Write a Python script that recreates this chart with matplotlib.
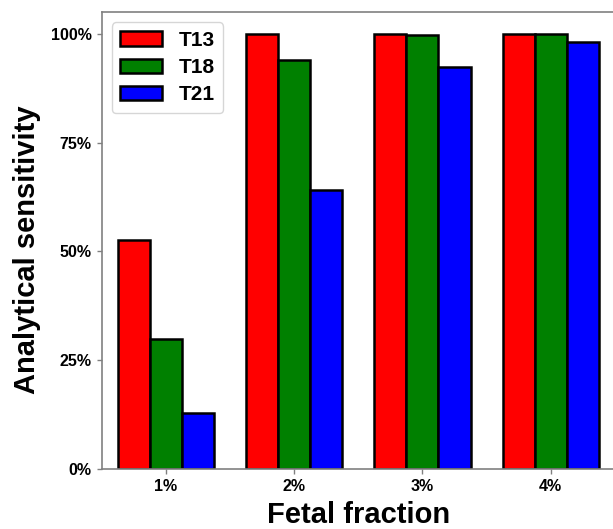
import numpy as np
import matplotlib
matplotlib.use('Agg')
import matplotlib.pyplot as plt
from matplotlib.ticker import FuncFormatter

plt.rcParams['font.family'] = ['Liberation Sans', 'DejaVu Sans']

# Data
fractions = ['1%', '2%', '3%', '4%']
t13 = [52.7, 100.0, 100.0, 100.0]
t18 = [29.8, 93.9, 99.8, 100.0]
t21 = [12.8, 64.2, 92.3, 98.1]

series = [
    ('T13', t13, 'red'),
    ('T18', t18, 'green'),
    ('T21', t21, 'blue'),
]

fig = plt.figure(figsize=(6.13, 5.29), dpi=100)
ax = fig.add_axes([0.1656, 0.1134, 0.8375, 0.8639])

x = np.arange(len(fractions))
width = 0.25
for i, (name, vals, color) in enumerate(series):
    ax.bar(x + (i - 1) * width, vals, width, color=color, edgecolor='black',
           linewidth=1.8, label=name)

ax.set_xlim(-0.5, 3.5)
ax.set_ylim(0, 105)
ax.set_xticks(x)
ax.set_xticklabels(fractions)
ax.set_yticks([0, 25, 50, 75, 100])
ax.yaxis.set_major_formatter(FuncFormatter(lambda v, p: f'{int(v)}%'))

for s in ax.spines.values():
    s.set_color('#808080')
    s.set_linewidth(1.2)
ax.tick_params(colors='#808080', labelcolor='black', labelsize=11.5, width=1)
for lab in ax.get_xticklabels() + ax.get_yticklabels():
    lab.set_fontweight('bold')

ax.set_xlabel('Fetal fraction', fontsize=21, fontweight='bold', labelpad=5)
ax.set_ylabel('Analytical sensitivity', fontsize=21, fontweight='bold')
ax.yaxis.set_label_coords(-0.118, 0.48)

ax.legend(loc='upper left', prop={'size': 15, 'weight': 'bold'},
          labelspacing=0.4)

fig.savefig('out.png', dpi=100)
